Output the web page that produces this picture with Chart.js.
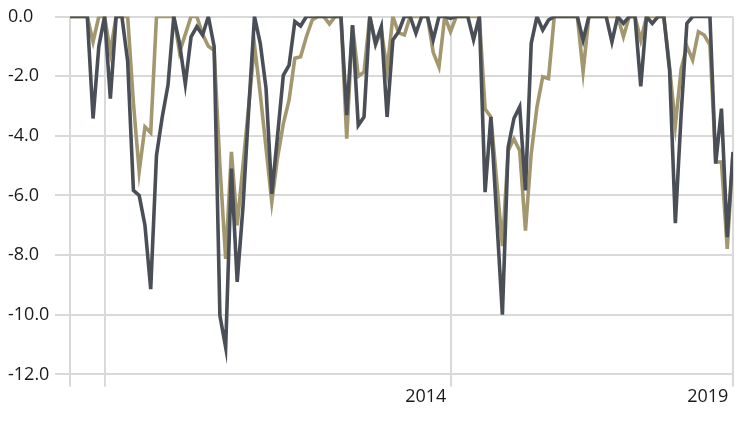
<!DOCTYPE html>
<html>
<head>
<meta charset="utf-8">
<script src="https://cdn.jsdelivr.net/npm/chart.js@4/dist/chart.umd.min.js"></script>
<style>
  html, body { margin: 0; padding: 0; background: #ffffff; }
  #wrap { width: 744px; height: 426px; }
</style>
</head>
<body>
<div id="wrap"><canvas id="c" width="744" height="426"></canvas></div>
<script>
// Monthly drawdown values (%)
const darkSeries = [
  0, 0, 0, 0, -3.42, -1.0, 0, -2.75, 0, 0,
  -1.5, -5.83, -6.0, -7.0, -9.14, -4.66, -3.37, -2.3, 0, -0.9,
  -2.26, -0.68, -0.34, -0.62, 0, -1.0, -10.03, -11.1, -5.1, -8.9,
  -6.4, -3.1, 0, -0.9, -2.4, -5.95, -4.0, -1.97, -1.63, -0.17,
  -0.32, 0, 0, 0, 0, 0, 0, 0, -3.31, -0.29,
  -3.65, -3.37, 0, -0.9, -0.34, -3.37, -0.79, -0.51, 0, 0,
  -0.56, 0, 0, -0.78, 0, 0, -0.06, 0, 0, 0,
  -0.78, 0, -5.89, -3.37, -6.7, -10.0, -4.38, -3.42, -3.03, -5.83,
  -0.9, 0, -0.45, -0.12, 0, 0, 0, 0, 0, -0.79,
  0, 0, 0, 0, -0.85, 0, -0.23, 0, 0, -2.34,
  0, -0.23, 0, 0, -1.8, -6.93, -3.3, -0.23, 0, 0,
  0, 0, -4.93, -3.09, -7.4, -4.54
];
const tanSeries = [
  0, 0, 0, 0, -0.85, 0, 0, -1.2, 0, 0,
  0, -2.9, -5.2, -3.7, -3.9, 0, 0, 0, 0, -1.2,
  -0.6, 0, 0, -0.6, -1.0, -1.13, -5.0, -8.13, -4.54, -7.0,
  -5.0, -3.0, -0.96, -2.6, -4.4, -6.22, -4.73, -3.6, -2.8, -1.4,
  -1.35, -0.68, -0.12, 0, 0, -0.25, 0, 0, -4.1, -0.3,
  -2.0, -1.86, 0, -0.96, -0.45, -1.8, 0, -0.55, -0.62, 0,
  0, 0, 0, -1.2, -1.69, 0, -0.51, 0, 0, 0,
  0, 0, -3.1, -3.37, -5.5, -7.7, -4.5, -4.1, -4.5, -7.18,
  -4.6, -3.03, -2.02, -2.08, 0, 0, 0, 0, 0, -1.85,
  0, 0, 0, 0, 0, 0, -0.68, 0, 0, -0.79,
  0, 0, 0, 0, -1.7, -3.65, -1.77, -1.0, -1.46, -0.51,
  -0.62, -0.95, -4.88, -4.88, -7.79, -4.6
];
// x-axis ticks (in month-index units) and their labels
const xTickValues = [0, 6.07, 66.1, 115];
const xTickLabels = ['', '', '2014 ', '2019 '];
// y-axis range
const yMin = -12, yMax = 0, yStep = 2;

const toPoints = arr => arr.map((v, i) => ({ x: i, y: v }));
const FONT = { family: 'Open Sans', size: 18 };
const GRID = '#d9d9d9';

new Chart(document.getElementById('c'), {
  type: 'line',
  data: {
    datasets: [
      { label: 'A', data: toPoints(darkSeries), borderColor: '#4a4f57', borderWidth: 3.6,
        pointRadius: 0, tension: 0, fill: false },
      { label: 'B', data: toPoints(tanSeries), borderColor: '#a39770', borderWidth: 3.6,
        pointRadius: 0, tension: 0, fill: false }
    ]
  },
  options: {
    responsive: false,
    animation: false,
    events: [],
    layout: { padding: { left: 8, right: 11, top: 16.5, bottom: 18 } },
    plugins: { legend: { display: false }, tooltip: { enabled: false } },
    scales: {
      x: {
        type: 'linear',
        min: 0,
        max: darkSeries.length - 1,
        afterBuildTicks: s => { s.ticks = xTickValues.map(v => ({ value: v })); },
        grid: { color: GRID, lineWidth: 2, tickLength: 12, drawTicks: true },
        border: { display: false },
        ticks: {
          autoSkip: false, maxRotation: 0, minRotation: 0, align: 'end', padding: 0,
          color: '#1a1a1a', font: FONT,
          callback: (v, i) => xTickLabels[i]
        }
      },
      y: {
        min: yMin, max: yMax,
        afterFit: s => { s.width = 62; },
        grid: { color: GRID, lineWidth: 2, tickLength: 15, drawTicks: true },
        border: { display: false },
        ticks: {
          stepSize: yStep, crossAlign: 'far', padding: 4,
          color: '#1a1a1a', font: FONT,
          callback: v => Number(v).toFixed(1)
        }
      }
    }
  }
});
</script>
</body>
</html>
